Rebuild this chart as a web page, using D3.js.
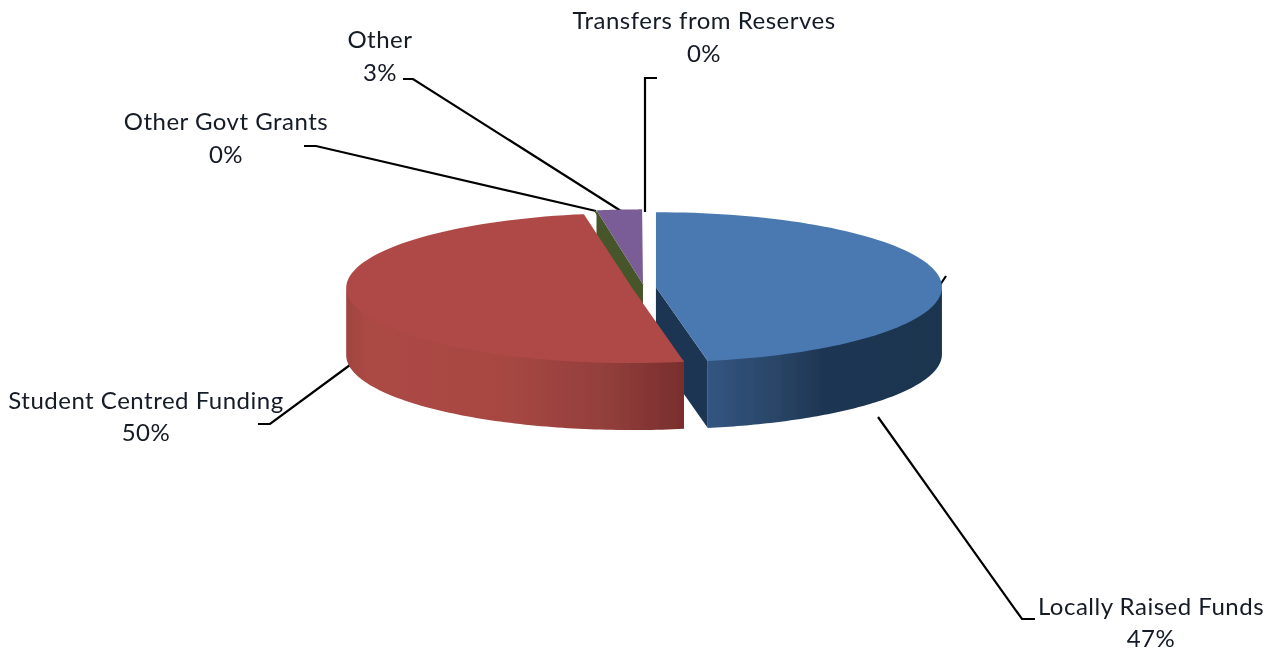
<!DOCTYPE html>
<html><head><meta charset="utf-8">
<script src="https://cdn.jsdelivr.net/npm/d3@7/dist/d3.min.js"></script>
<style>html,body{margin:0;padding:0;background:#fff}svg{display:block}text{font-family:Lato,"Noto Sans",sans-serif;fill:#141a26;letter-spacing:.5px}</style>
</head><body><script>
// Data
const categories = ["Locally Raised Funds","Student Centred Funding","Other Govt Grants","Other","Transfers from Reserves"];
const values = [47.1, 50.2, 0.1, 2.55, 0.05];
const topColors = ["#4a79b0","#ae4a46","#47562a","#7a5c97","#4bacc6"];
const wallStops = [
  [[0,"#335581"],[0.28,"#2a4668"],[0.5,"#1e3552"],[1,"#1d3450"]],
  [[0,"#a04441"],[0.06,"#ab4844"],[0.45,"#a84743"],[0.75,"#94403c"],[1,"#792e2d"]]
];

// Layout
const W = 1279, H = 651;
const cx = 644, cy = 287.5, rx = 286, ry = 75, depth = 67, explode = 12;
const labelLayout = [
  {x:1151, y1:615, y2:647, line:[[1035,619],[1022,619],[878,417]]},
  {x:146,  y1:409, y2:441, line:[[258,424],[270,424],[350,365]]},
  {x:226,  y1:130, y2:163, line:[[304,146],[316,146],[596,211]]},
  {x:380,  y1:48,  y2:81,  line:[[403,79],[413,79],[621,211]]},
  {x:704,  y1:29,  y2:62,  line:[[657,78],[645,78],[645,212]]}
];

const svg = d3.select("body").append("svg").attr("width",W).attr("height",H);
const defs = svg.append("defs");
const soft = defs.append("filter").attr("id","soft").attr("x","-5%").attr("y","-5%").attr("width","110%").attr("height","110%");
soft.append("feGaussianBlur").attr("stdDeviation",0.6);
const softText = defs.append("filter").attr("id","softText").attr("x","-5%").attr("y","-5%").attr("width","110%").attr("height","110%");
softText.append("feGaussianBlur").attr("stdDeviation",0.3);

const arcs = d3.pie().sort(null).value(d=>d)(values);
const pt = (c,a,dy=0)=>[c.x+rx*Math.sin(a), c.y-ry*Math.cos(a)+dy];
const centerOf = d=>{const m=(d.startAngle+d.endAngle)/2;
  return {x:cx+explode*Math.sin(m), y:cy-explode*(ry/rx)*Math.cos(m)};};

// Elliptical rim sampled from the pie angles
function rim(c,a0,a1,dy,n=90){
  return d3.range(n+1).map(i=>pt(c,a0+(a1-a0)*i/n,dy));
}
const line = d3.line();
function topPath(d){const c=centerOf(d);return line([[c.x,c.y],...rim(c,d.startAngle,d.endAngle,0)])+"Z";}
// Outer wall only where it faces the viewer (angles between 90 and 270 degrees)
function wallPath(d){const c=centerOf(d);
  const a0=Math.max(d.startAngle,Math.PI/2), a1=Math.min(d.endAngle,Math.PI*1.5);
  if(a1<=a0) return null;
  return line([...rim(c,a0,a1,-2),...rim(c,a1,a0,depth)])+"Z";}
function cutWall(d,a){const c=centerOf(d);const p=pt(c,a);
  return line([[c.x,c.y],p,[p[0],p[1]+depth],[c.x,c.y+depth]])+"Z";}

// Horizontal gradients for the outer walls, running left to right
[0,1].forEach(i=>{
  const c=centerOf(arcs[i]);
  const a0=Math.max(arcs[i].startAngle,Math.PI/2),a1=Math.min(arcs[i].endAngle,Math.PI*1.5);
  const g=defs.append("linearGradient").attr("id","wall"+i).attr("gradientUnits","userSpaceOnUse")
    .attr("x1",pt(c,a1)[0]).attr("x2",pt(c,a0)[0]).attr("y1",0).attr("y2",0);
  wallStops[i].forEach(s=>g.append("stop").attr("offset",s[0]).attr("stop-color",s[1]));
});

// Leader lines sit behind the pie
const lg=svg.append("g").attr("filter","url(#softText)");
labelLayout.forEach(l=>lg.append("path").attr("d",line(l.line)).attr("fill","none").attr("stroke","#000").attr("stroke-width",2.2));
lg.append("path").attr("d",line([[946,276],[938,288]])).attr("fill","none").attr("stroke","#000").attr("stroke-width",2.2);

const pie=svg.append("g").attr("filter","url(#soft)");
// Locally Raised Funds
pie.append("path").attr("d",cutWall(arcs[0],arcs[0].endAngle)).attr("fill","#1e3552");
pie.append("path").attr("d",wallPath(arcs[0])).attr("fill","url(#wall0)");
pie.append("path").attr("d",topPath(arcs[0])).attr("fill",topColors[0]);
// Other Govt Grants and Other
pie.append("path").attr("d",cutWall(arcs[3],arcs[3].startAngle)).attr("fill",topColors[2]);
pie.append("path").attr("d",topPath(arcs[2])).attr("fill",topColors[2]);
pie.append("path").attr("d",topPath(arcs[3])).attr("fill",topColors[3]);
// Student Centred Funding
pie.append("path").attr("d",wallPath(arcs[1])).attr("fill","url(#wall1)");
pie.append("path").attr("d",topPath(arcs[1])).attr("fill",topColors[1]);

// Labels
const pct=d3.format(".0f");
const total=d3.sum(values);
const t=svg.append("g").attr("text-anchor","middle").attr("filter","url(#softText)").style("font-size","24px");
categories.forEach((c,i)=>{
  const l=labelLayout[i];
  t.append("text").attr("x",l.x).attr("y",l.y1).text(c);
  t.append("text").attr("x",l.x).attr("y",l.y2).text(pct(values[i]/total*100)+"%");
});
</script></body></html>
